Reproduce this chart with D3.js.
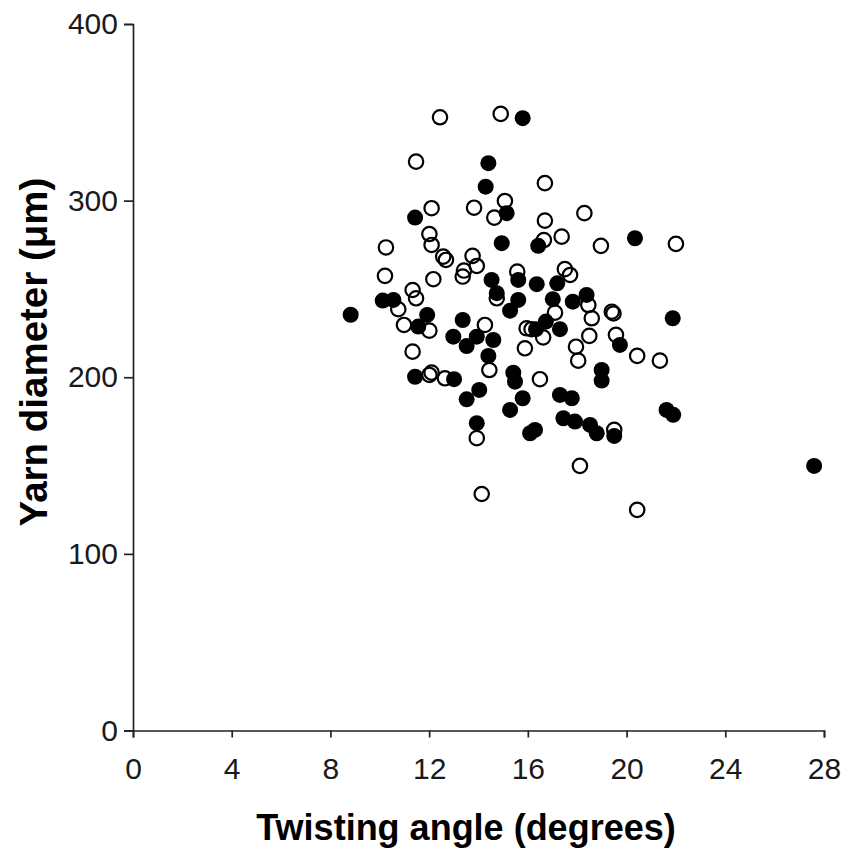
<!DOCTYPE html>
<html>
<head>
<meta charset="utf-8">
<script src="https://cdn.jsdelivr.net/npm/d3@7"></script>
<style>
  html, body { margin: 0; padding: 0; background: #fff; }
  svg { display: block; }
</style>
</head>
<body>
<svg id="chart" width="863" height="851"></svg>
<script>
// ---- Data ----
const xTicks = [0, 4, 8, 12, 16, 20, 24, 28];
const yTicks = [0, 100, 200, 300, 400];

// Filled circles: twisting angle (degrees), yarn diameter (µm)
const filledX = [8.82,10.12,10.55,11.92,11.56,11.43,11.43,13.01,14.40,14.29,15.79,15.14,14.94,16.42,14.53,14.74,15.61,15.61,15.28,13.36,12.98,13.52,13.93,14.60,14.40,15.41,15.48,14.03,13.52,15.79,15.28,13.93,16.09,16.29,16.36,17.19,17.01,17.82,18.38,16.73,16.33,17.30,19.73,20.34,21.87,18.99,18.99,17.30,17.78,17.44,17.91,18.52,18.79,19.50,21.62,21.89,27.6];
const filledY = [235.4,243.4,243.8,235.3,228.7,290.4,200.3,198.9,321.2,307.9,346.7,292.9,275.9,274.4,255.1,247.6,255.1,243.8,237.7,232.4,223.0,217.7,223.0,221.1,212.1,202.6,197.5,192.8,187.5,188.1,181.5,174.0,168.3,170.2,252.7,253.2,244.2,242.8,246.6,231.5,227.2,227.2,218.3,278.7,233.4,204.1,198.1,190.0,188.1,176.8,174.9,173.0,168.3,166.8,181.5,178.7,149.8];

// Open circles
const openX = [12.44,14.90,11.47,16.69,15.07,12.10,13.82,14.64,12.01,12.10,10.25,16.69,18.29,16.65,17.37,18.96,22.00,12.57,12.68,13.76,13.93,13.41,13.36,10.21,12.17,11.33,11.47,10.75,10.98,12.01,14.74,15.57,14.26,15.95,15.88,14.44,11.33,12.01,12.10,12.64,17.50,17.71,18.45,17.10,18.59,19.40,19.47,16.15,16.62,18.49,19.57,17.95,18.04,20.43,21.35,16.49,19.50,13.93,18.11,14.13,20.43];
const openY = [347.2,349.1,322.1,309.9,299.8,295.7,296.0,290.4,281.1,274.9,273.5,288.7,292.9,277.7,279.6,274.4,275.5,268.3,266.4,268.7,263.0,260.4,257.0,257.4,255.5,249.4,244.7,238.5,229.6,226.4,244.7,259.8,229.6,227.7,216.4,204.1,214.5,201.3,202.6,199.4,261.2,257.9,240.9,236.6,233.4,237.1,236.1,227.2,222.6,223.4,224.0,217.3,209.4,212.1,209.4,198.9,170.2,165.5,149.8,133.9,124.9];

const xTitle = "Twisting angle (degrees)";
const yTitle = "Yarn diameter (\u03bcm)";

// ---- Drawing ----
const svg = d3.select("#chart");
const font = "'Liberation Sans', Arial, Helvetica, sans-serif";
const inkColor = "#1a1a1a";

const x = d3.scaleLinear().domain([0, 28]).range([133, 824]);
const y = d3.scaleLinear().domain([0, 400]).range([730.5, 24]);

const xAxis = svg.append("g")
  .attr("transform", `translate(0,${y(0)})`)
  .call(d3.axisBottom(x).tickValues(xTicks).tickSize(7).tickSizeOuter(7).tickPadding(20));
const yAxis = svg.append("g")
  .attr("transform", `translate(${x(0)},0)`)
  .call(d3.axisLeft(y).tickValues(yTicks).tickSize(9).tickSizeOuter(9).tickPadding(6));

[xAxis, yAxis].forEach(g => {
  g.selectAll("path, line").attr("stroke", "#222").attr("stroke-width", 1.7);
  g.selectAll("text")
    .attr("fill", inkColor)
    .style("font-family", font)
    .style("font-size", "30px");
});

// Data points
const filled = filledX.map((v, i) => ({ x: v, y: filledY[i] }));
const open = openX.map((v, i) => ({ x: v, y: openY[i] }));

svg.append("g").selectAll("circle")
  .data(filled)
  .join("circle")
  .attr("cx", d => x(d.x))
  .attr("cy", d => y(d.y))
  .attr("r", 8)
  .attr("fill", "#000");

svg.append("g").selectAll("circle")
  .data(open)
  .join("circle")
  .attr("cx", d => x(d.x))
  .attr("cy", d => y(d.y))
  .attr("r", 7.2)
  .attr("fill", "none")
  .attr("stroke", "#000")
  .attr("stroke-width", 2.2);

// Axis titles
svg.append("text")
  .attr("x", 466)
  .attr("y", 840)
  .attr("text-anchor", "middle")
  .attr("fill", "#000")
  .style("font-family", font)
  .style("font-weight", "bold")
  .style("font-size", "36px")
  .text(xTitle);

svg.append("text")
  .attr("transform", "translate(47,352) rotate(-90)")
  .attr("text-anchor", "middle")
  .attr("fill", "#000")
  .style("font-family", font)
  .style("font-weight", "bold")
  .style("font-size", "38.5px")
  .text(yTitle);
</script>
</body>
</html>
